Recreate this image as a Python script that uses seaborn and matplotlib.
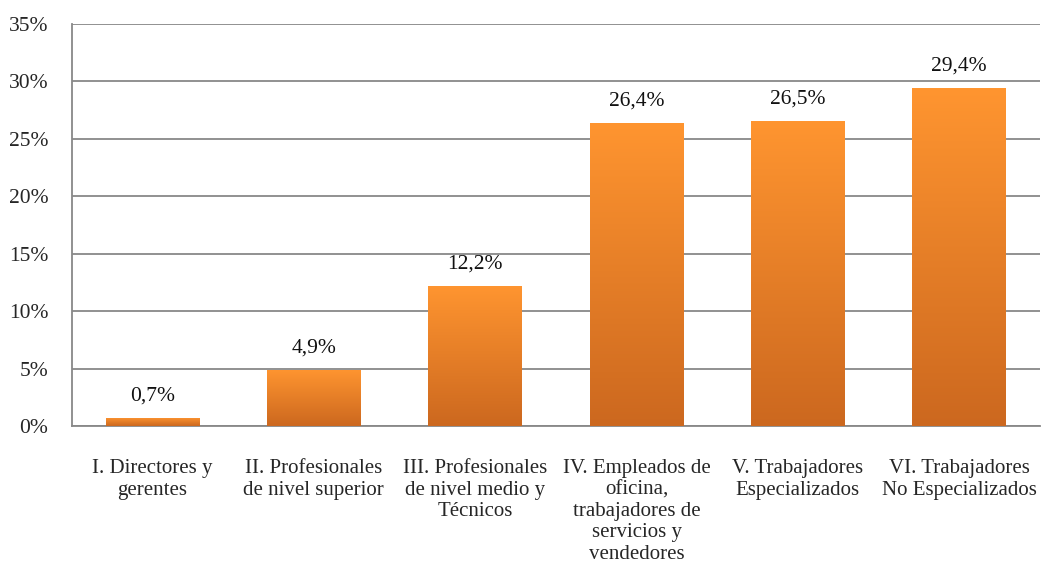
import numpy as np
import pandas as pd
import seaborn as sns
import matplotlib.pyplot as plt
from matplotlib.colors import LinearSegmentedColormap

categories = [
    "I. Directores y\ngerentes",
    "II. Profesionales\nde nivel superior",
    "III. Profesionales\nde nivel medio y\nTécnicos",
    "IV. Empleados de\noficina,\ntrabajadores de\nservicios y\nvendedores",
    "V. Trabajadores\nEspecializados",
    "VI. Trabajadores\nNo Especializados",
]
values = [0.7, 4.9, 12.2, 26.4, 26.5, 29.4]
labels = ["0,7%", "4,9%", "12,2%", "26,4%", "26,5%", "29,4%"]

df = pd.DataFrame({"cat": categories, "val": values})

sns.set_style("white")
plt.rcParams["font.family"] = ["Liberation Serif", "DejaVu Serif"]

fig = plt.figure(figsize=(10.41, 5.65), dpi=100)
ax = fig.add_axes([0.069, 0.246, 0.93, 0.712])

ax = sns.barplot(data=df, x="cat", y="val", color="#F28C28", width=0.58, ax=ax, zorder=3)

# vertical orange gradient inside each bar
cmap = LinearSegmentedColormap.from_list("org", ["#CC681F", "#FF9530"])
grad = np.linspace(0, 1, 256).reshape(-1, 1)
for patch in ax.patches:
    x0, y0 = patch.get_x(), patch.get_y()
    w, h = patch.get_width(), patch.get_height()
    im = ax.imshow(grad, cmap=cmap, origin="lower", aspect="auto",
                   extent=[x0, x0 + w, y0, y0 + h], zorder=4)
    im.set_clip_path(patch)
    patch.set_edgecolor("none")

for i, (v, t) in enumerate(zip(values, labels)):
    ax.annotate(t, (i, v), xytext=(0, 9), textcoords="offset points",
                ha="center", va="bottom", fontsize=15.5, color="#111111")

ax.set_xlim(-0.5, len(categories) - 0.5)
ax.set_ylim(0, 35)
ax.set_yticks(range(0, 36, 5))
ax.set_yticklabels([f"{t}%" for t in range(0, 36, 5)], fontsize=15.5)
ax.tick_params(axis="x", labelsize=15, pad=24, length=0)
ax.tick_params(axis="y", length=0, pad=17)
for lab in ax.get_xticklabels():
    lab.set_linespacing(1.17)
ax.set_xlabel("")
ax.set_ylabel("")
ax.yaxis.grid(True, color="#888888", linewidth=1.3, zorder=0)
ax.set_axisbelow(True)
for s in ["top", "right"]:
    ax.spines[s].set_visible(False)
for s in ["left", "bottom"]:
    ax.spines[s].set_color("#888888")
    ax.spines[s].set_linewidth(1.3)

fig.savefig("out.png", dpi=100)
